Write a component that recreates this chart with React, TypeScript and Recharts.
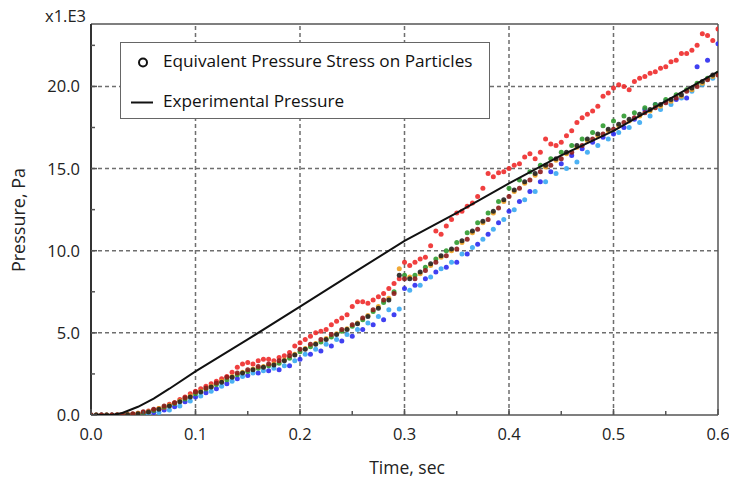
import React from "react";
import {
  ScatterChart,
  Scatter,
  XAxis,
  YAxis,
  ReferenceLine,
} from "recharts";

// sample times (sec)
const TIME = [
  0.0, 0.01, 0.02, 0.03, 0.04, 0.05, 0.06, 0.07, 0.08, 0.09, 0.1, 0.11, 0.12, 0.13, 0.14, 0.15,
  0.16, 0.17, 0.18, 0.19, 0.2, 0.21, 0.22, 0.23, 0.24, 0.25, 0.26, 0.27, 0.28, 0.29, 0.3, 0.31,
  0.32, 0.33, 0.34, 0.35, 0.36, 0.37, 0.38, 0.39, 0.4, 0.41, 0.42, 0.43, 0.44, 0.45, 0.46, 0.47,
  0.48, 0.49, 0.5, 0.51, 0.52, 0.53, 0.54, 0.55, 0.56, 0.57, 0.58, 0.59, 0.6,
];
const TIME_MID = [
  0.005, 0.015, 0.025, 0.035, 0.045, 0.055, 0.065, 0.075, 0.085, 0.095, 0.105, 0.115, 0.125,
  0.135, 0.145, 0.155, 0.165, 0.175, 0.185, 0.195, 0.205, 0.215, 0.225, 0.235, 0.245, 0.255,
  0.265, 0.275, 0.285, 0.295, 0.305, 0.315, 0.325, 0.335, 0.345, 0.355, 0.365, 0.375, 0.385,
  0.395, 0.405, 0.415, 0.425, 0.435, 0.445, 0.455, 0.465, 0.475, 0.485, 0.495, 0.505, 0.515,
  0.525, 0.535, 0.545, 0.555, 0.565, 0.575, 0.585, 0.595,
];

// particle pressures (x1.E3 Pa)
const GREEN = [
  0, 0, 0, 0.02, 0.05, 0.12, 0.28, 0.48, 0.7, 0.98, 1.3, 1.58, 1.85, 2.15, 2.45, 2.65, 2.85, 3.0,
  3.15, 3.45, 3.85, 4.15, 4.45, 4.75, 5.1, 5.4, 5.8, 6.3, 6.85, 7.5, 8.5, 8.5, 9.0, 9.5, 10.0,
  10.5, 11.1, 11.7, 12.3, 13.0, 13.8, 14.3, 14.8, 15.2, 15.6, 16.0, 16.4, 16.8, 17.2, 17.6, 17.9,
  18.2, 18.4, 18.7, 18.9, 19.2, 19.5, 19.8, 20.2, 20.5, 20.8,
];
const BROWN = [
  0, 0, 0, 0.03, 0.08, 0.2, 0.35, 0.55, 0.75, 1.05, 1.4, 1.65, 1.95, 2.3, 2.55, 2.75, 2.95, 3.1,
  3.3, 3.6, 4.0, 4.3, 4.6, 4.9, 5.2, 5.5, 5.9, 6.4, 7.0, 7.4, 8.3, 8.3, 8.8, 9.3, 9.7, 10.1, 10.7,
  11.3, 11.9, 12.6, 13.3, 13.8, 14.3, 14.8, 15.2, 15.6, 16.0, 16.4, 16.8, 17.1, 17.4, 17.8, 18.1,
  18.4, 18.7, 19.0, 19.3, 19.7, 20.0, 20.4, 20.7,
];
const ORANGE = [
  0, 0, 0, 0.03, 0.1, 0.2, 0.4, 0.6, 0.85, 1.15, 1.45, 1.75, 2.05, 2.35, 2.6, 2.8, 2.95, 3.1, 3.35,
  3.7, 4.05, 4.35, 4.65, 4.95, 5.25, 5.6, 6.05, 6.6, 7.1, 8.9, 8.4, 8.6, 9.1, 9.6, 10.0, 10.5,
  11.1, 11.7, 12.3, 13.0, 13.6, 14.1, 14.6, 15.1, 15.5, 15.9, 16.3, 16.7, 17.0, 17.3, 17.6, 17.9,
  18.2, 18.5, 18.8, 19.1, 19.4, 19.8, 20.2, 20.6,
];
const BLACK = [
  0, 0, 0, 0.02, 0.08, 0.18, 0.35, 0.55, 0.8, 1.1, 1.4, 1.7, 2.0, 2.3, 2.55, 2.75, 2.9, 3.05, 3.3,
  3.65, 4.0, 4.3, 4.6, 4.9, 5.2, 5.55, 6.0, 6.5, 7.0, 8.5, 8.3, 8.7, 9.2, 9.7, 10.1, 10.6, 11.2,
  11.8, 12.4, 13.1, 13.7, 14.2, 14.7, 15.2, 15.6, 16.0, 16.4, 16.8, 17.1, 17.4, 17.7, 18.0, 18.3,
  18.6, 18.9, 19.2, 19.5, 19.9, 20.3, 20.7,
];
const BLUE = [
  0, 0, 0, 0, 0.02, 0.05, 0.15, 0.3, 0.5, 0.8, 1.1, 1.35, 1.6, 1.9, 2.2, 2.4, 2.55, 2.7, 2.75, 3.0,
  3.4, 3.7, 3.9, 4.2, 4.5, 4.8, 5.2, 5.5, 5.8, 6.1, 7.7, 7.9, 8.3, 8.7, 9.0, 9.3, 9.8, 10.4, 11.0,
  11.7, 12.4, 13.0, 13.6, 14.2, 14.8, 15.3, 15.8, 16.2, 16.6, 16.9, 17.1, 17.5, 18.0, 18.6, 18.9,
  19.1, 19.2, 19.3, 21.2, 21.6, 22.6,
];
const LIGHT_BLUE = [
  0, 0, 0, 0, 0.02, 0.05, 0.15, 0.3, 0.55, 0.85, 1.15, 1.45, 1.75, 2.05, 2.35, 2.55, 2.7, 2.85,
  3.0, 3.3, 3.7, 4.0, 4.3, 4.6, 4.9, 5.2, 5.6, 6.0, 6.4, 6.45, 7.6, 7.9, 8.4, 8.9, 9.3, 9.8, 10.2,
  10.7, 11.3, 11.9, 12.5, 13.1, 13.6, 14.2, 14.7, 15.0, 15.4, 16.0, 16.4, 16.8, 17.2, 17.5, 17.8,
  18.2, 18.6, 18.9, 19.3, 19.7, 20.1, 20.5,
];
const RED = [
  0, 0, 0, 0.02, 0.05, 0.15, 0.3, 0.45, 0.75, 1.1, 1.45, 1.75, 2.05, 2.35, 2.9, 3.2, 3.3, 3.4,
  3.5, 3.8, 4.4, 4.8, 5.1, 5.5, 5.9, 6.6, 6.9, 7.0, 7.4, 8.0, 9.3, 9.3, 9.6, 11.2, 11.5, 12.3,
  12.7, 13.3, 14.7, 14.75, 15.0, 15.3, 15.9, 16.0, 16.5, 16.6, 17.3, 18.1, 18.5, 19.4, 19.9, 20.0,
  20.3, 20.6, 20.9, 21.2, 21.6, 22.0, 22.5, 23.1, 23.5,
];
const RED_MID = [
  0, 0, 0.02, 0.05, 0.1, 0.25, 0.4, 0.65, 0.95, 1.3, 1.6, 1.9, 2.2, 2.6, 3.1, 3.1, 3.4, 3.3, 3.6,
  4.2, 4.6, 5.0, 5.2, 5.7, 6.1, 6.9, 6.8, 7.2, 7.7, 8.3, 9.1, 9.5, 10.3, 11.0, 11.9, 12.4, 12.9,
  13.8, 14.5, 14.8, 15.2, 15.7, 15.6, 16.8, 16.4, 17.0, 17.8, 18.3, 18.8, 19.6, 20.1, 19.8, 20.5,
  20.8, 21.1, 21.5, 22.0, 22.2, 23.2, 22.8,
];

// experimental pressure curve
const EXP_TIME = [0, 0.02, 0.03, 0.045, 0.06, 0.075, 0.1, 0.15, 0.2, 0.25, 0.3, 0.35, 0.4, 0.45, 0.5, 0.55, 0.6];
const EXP_P = [0, 0, 0.12, 0.5, 1.0, 1.6, 2.65, 4.6, 6.6, 8.6, 10.6, 12.3, 14.1, 15.8, 17.3, 19.1, 20.9];

const X_TICKS = [0, 0.05, 0.1, 0.15, 0.2, 0.25, 0.3, 0.35, 0.4, 0.45, 0.5, 0.55, 0.6];
const Y_TICKS = [0, 2.5, 5, 7.5, 10, 12.5, 15, 17.5, 20, 22.5];
const X_GRID = [0.1, 0.2, 0.3, 0.4, 0.5];
const Y_GRID = [5, 10, 15, 20];

const FONT = "'Open Sans', 'Noto Sans', sans-serif";
const AXIS = "#555";

const zip = (t: number[], p: number[]) => t.map((v, i) => ({ t: v, p: p[i] }));

const isMajor = (v: number, step: number) => Math.abs(v / step - Math.round(v / step)) < 1e-6;

const dot = (color: string) => (props: any) =>
  <circle cx={props.cx} cy={props.cy} r={2.5} fill={color} fillOpacity={0.9} />;

const BottomTick = (props: any) => {
  const { x, y, payload } = props;
  const major = isMajor(payload.value, 0.1);
  return (
    <g>
      <line x1={x} x2={x} y1={y} y2={y - (major ? 6 : 4)} stroke={AXIS} strokeWidth={1.5} />
      {major && (
        <text x={x} y={y + 25} textAnchor="middle" fontFamily={FONT} fontSize={16.5} fill="#222">
          {payload.value.toFixed(1)}
        </text>
      )}
    </g>
  );
};

const TopTick = (props: any) => {
  const { x, y } = props;
  return <line x1={x} x2={x} y1={y} y2={y + 4} stroke={AXIS} strokeWidth={1.5} />;
};

const LeftTick = (props: any) => {
  const { x, y, payload } = props;
  const major = isMajor(payload.value, 5);
  return (
    <g>
      <line x1={x} x2={x + (major ? 6 : 4)} y1={y} y2={y} stroke={AXIS} strokeWidth={1.5} />
      {major && (
        <text x={x - 11} y={y + 6} textAnchor="end" fontFamily={FONT} fontSize={16.5} fill="#222">
          {payload.value.toFixed(1)}
        </text>
      )}
    </g>
  );
};

const RightTick = (props: any) => {
  const { x, y } = props;
  return <line x1={x} x2={x - 4} y1={y} y2={y} stroke={AXIS} strokeWidth={1.5} />;
};

const SERIES = [
  { name: "lightblue", data: zip(TIME_MID, LIGHT_BLUE), color: "#38a9f2" },
  { name: "blue", data: zip(TIME, BLUE), color: "#2b2bf0" },
  { name: "red", data: zip(TIME, RED), color: "#ee2a2a" },
  { name: "red2", data: zip(TIME_MID, RED_MID), color: "#ee2a2a" },
  { name: "green", data: zip(TIME, GREEN), color: "#2f9a2f" },
  { name: "orange", data: zip(TIME_MID, ORANGE), color: "#f0a020" },
  { name: "brown", data: zip(TIME, BROWN), color: "#8e1b1b" },
  { name: "black", data: zip(TIME_MID, BLACK), color: "#222" },
];

export default function App() {
  const expData = zip(EXP_TIME, EXP_P);
  return (
    <div style={{ position: "absolute", left: 0, top: 0, width: 729, height: 479, background: "#fff", fontFamily: FONT }}>
      <ScatterChart width={729} height={479} margin={{ top: 24, right: 11, bottom: 0, left: 0 }}>
        <XAxis
          type="number"
          dataKey="t"
          domain={[0, 0.6]}
          ticks={X_TICKS}
          interval={0}
          height={64}
          tickSize={0}
          tickMargin={0}
          tickLine={false}
          tick={<BottomTick />}
          axisLine={{ stroke: AXIS, strokeWidth: 1.5 }}
          allowDataOverflow
        />
        <XAxis
          xAxisId="top"
          orientation="top"
          type="number"
          dataKey="t"
          domain={[0, 0.6]}
          ticks={X_TICKS}
          interval={0}
          height={0}
          tickSize={0}
          tickMargin={0}
          tickLine={false}
          tick={<TopTick />}
          axisLine={{ stroke: AXIS, strokeWidth: 1.5 }}
          allowDataOverflow
        />
        <YAxis
          type="number"
          dataKey="p"
          domain={[0, 23.8]}
          ticks={Y_TICKS}
          interval={0}
          width={91}
          tickSize={0}
          tickMargin={0}
          tickLine={false}
          tick={<LeftTick />}
          axisLine={{ stroke: "#333", strokeWidth: 2 }}
          allowDataOverflow
        />
        <YAxis
          yAxisId="right"
          orientation="right"
          type="number"
          dataKey="p"
          domain={[0, 23.8]}
          ticks={Y_TICKS}
          interval={0}
          width={0}
          tickSize={0}
          tickMargin={0}
          tickLine={false}
          tick={<RightTick />}
          axisLine={{ stroke: AXIS, strokeWidth: 1.5 }}
          allowDataOverflow
        />
        {X_GRID.map((v) => (
          <ReferenceLine key={`gx${v}`} x={v} stroke="#6e6e6e" strokeWidth={1.5} strokeDasharray="4 3" />
        ))}
        {Y_GRID.map((v) => (
          <ReferenceLine key={`gy${v}`} y={v} stroke="#6e6e6e" strokeWidth={1.5} strokeDasharray="4 3" />
        ))}
        <ReferenceLine y={23.8} stroke={AXIS} strokeWidth={1.5} />
        <ReferenceLine x={0.6} stroke={AXIS} strokeWidth={1.5} />
        {SERIES.map((s) => (
          <Scatter key={s.name} data={s.data} shape={dot(s.color)} isAnimationActive={false} />
        ))}
        <Scatter
          data={expData}
          xAxisId="top"
          yAxisId="right"
          line={{ stroke: "#111", strokeWidth: 2 }}
          lineType="joint"
          shape={() => <g />}
          isAnimationActive={false}
        />
      </ScatterChart>

      <div style={{ position: "absolute", left: 45, top: 6, fontSize: 16.5, lineHeight: "20px", color: "#222" }}>x1.E3</div>
      <div
        style={{
          position: "absolute",
          left: 18,
          top: 220,
          transform: "translate(-50%, -50%) rotate(-90deg)",
          fontSize: 18,
          lineHeight: "22px",
          color: "#222",
          whiteSpace: "nowrap",
        }}
      >
        Pressure, Pa
      </div>
      <div
        style={{
          position: "absolute",
          left: 407,
          top: 467,
          transform: "translate(-50%, -50%)",
          fontSize: 17.5,
          lineHeight: "20px",
          color: "#222",
          whiteSpace: "nowrap",
        }}
      >
        Time, sec
      </div>

      {/* legend box */}
      <div
        style={{
          position: "absolute",
          left: 120,
          top: 42,
          width: 368,
          height: 75,
          border: "1px solid #666",
          background: "#fff",
          fontSize: 17.2,
          color: "#111",
        }}
      >
        <svg width={40} height={75} style={{ position: "absolute", left: 0, top: 0 }}>
          <circle cx={22} cy={19.5} r={4} fill="none" stroke="#111" strokeWidth={2} />
          <line x1={10} x2={32} y1={59.5} y2={59.5} stroke="#111" strokeWidth={2} />
        </svg>
        <div style={{ position: "absolute", left: 42, top: 6, whiteSpace: "nowrap" }}>
          Equivalent Pressure Stress on Particles
        </div>
        <div style={{ position: "absolute", left: 42, top: 46, whiteSpace: "nowrap" }}>
          Experimental Pressure
        </div>
      </div>
    </div>
  );
}
